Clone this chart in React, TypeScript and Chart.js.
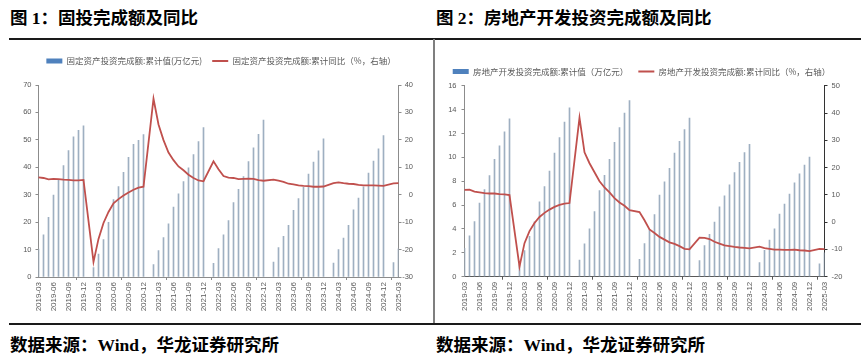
import React, { useEffect, useRef } from 'react';
import { Chart, registerables } from 'chart.js';

Chart.register(...registerables);
Chart.defaults.font.family = '"Liberation Sans", Arial, sans-serif';

// ---------- data ----------
const months: string[] = [
  '2019-03', '2019-04', '2019-05', '2019-06', '2019-07', '2019-08', '2019-09', '2019-10', '2019-11', '2019-12',
  '2020-01', '2020-02', '2020-03', '2020-04', '2020-05', '2020-06', '2020-07', '2020-08', '2020-09', '2020-10', '2020-11', '2020-12',
  '2021-01', '2021-02', '2021-03', '2021-04', '2021-05', '2021-06', '2021-07', '2021-08', '2021-09', '2021-10', '2021-11', '2021-12',
  '2022-01', '2022-02', '2022-03', '2022-04', '2022-05', '2022-06', '2022-07', '2022-08', '2022-09', '2022-10', '2022-11', '2022-12',
  '2023-01', '2023-02', '2023-03', '2023-04', '2023-05', '2023-06', '2023-07', '2023-08', '2023-09', '2023-10', '2023-11', '2023-12',
  '2024-01', '2024-02', '2024-03', '2024-04', '2024-05', '2024-06', '2024-07', '2024-08', '2024-09', '2024-10', '2024-11', '2024-12',
  '2025-01', '2025-02', '2025-03',
];

// 固定资产投资完成额:累计值(万亿元)
const faiValue: (number | null)[] = [
  10.2, 15.4, 21.8, 29.9, 35.3, 40.6, 46.1, 51.1, 53.5, 55.1,
  null, 3.4, 8.4, 13.6, 19.9, 28.2, 33.0, 38.2, 43.6, 48.4, 49.8, 51.9,
  null, 4.5, 9.6, 14.4, 19.4, 25.5, 30.3, 34.8, 39.8, 44.6, 49.4, 54.5,
  null, 5.0, 10.4, 15.4, 20.6, 27.1, 32.0, 36.6, 42.1, 47.1, 52.0, 57.2,
  null, 5.4, 10.7, 14.8, 18.8, 24.3, 28.6, 32.7, 37.5, 41.9, 46.0, 50.4,
  null, 5.1, 10.0, 14.2, 18.8, 24.5, 28.8, 32.9, 37.9, 42.3, 46.7, 51.6,
  null, 5.3, 10.3,
];

// 固定资产投资完成额:累计同比(%)
const faiYoY: (number | null)[] = [
  6.3, 6.1, 5.6, 5.8, 5.7, 5.5, 5.4, 5.2, 5.2, 5.4,
  null, -24.5, -16.1, -10.3, -6.3, -3.1, -1.6, -0.3, 0.8, 1.8, 2.6, 2.9,
  null, 35.0, 25.6, 19.9, 15.4, 12.6, 10.3, 8.9, 7.3, 6.1, 5.2, 4.9,
  null, 12.2, 9.3, 6.8, 6.2, 6.1, 5.7, 5.8, 5.9, 5.8, 5.3, 5.1,
  null, 5.5, 5.1, 4.7, 4.0, 3.8, 3.4, 3.2, 3.1, 2.9, 2.9, 3.0,
  null, 4.2, 4.5, 4.2, 4.0, 3.9, 3.6, 3.4, 3.4, 3.4, 3.3, 3.2,
  null, 4.1, 4.2,
];

// 房地产开发投资完成额:累计值(万亿元)
const reValue: (number | null)[] = [
  2.38, 3.42, 4.61, 6.16, 7.31, 8.48, 9.84, 10.96, 12.13, 13.22,
  null, 1.01, 2.19, 3.39, 4.59, 6.28, 7.55, 8.84, 10.35, 11.66, 12.95, 14.14,
  null, 1.39, 2.76, 4.02, 5.46, 7.22, 8.49, 9.84, 11.26, 12.49, 13.70, 14.76,
  null, 1.45, 2.78, 3.92, 5.21, 6.83, 7.95, 9.08, 10.36, 11.34, 12.32, 13.29,
  null, 1.36, 2.60, 3.55, 4.57, 5.86, 6.77, 7.69, 8.72, 9.59, 10.40, 11.09,
  null, 1.18, 2.21, 3.07, 4.01, 5.25, 6.09, 6.93, 7.87, 8.63, 9.35, 10.03,
  null, 1.07, 1.99,
];

// 房地产开发投资完成额:累计同比(%)
const reYoY: (number | null)[] = [
  11.8, 11.9, 11.2, 10.9, 10.6, 10.5, 10.5, 10.3, 10.2, 9.9,
  null, -16.3, -7.7, -3.3, -0.3, 1.9, 3.4, 4.6, 5.6, 6.3, 6.8, 7.0,
  null, 38.3, 25.6, 21.6, 18.3, 15.0, 12.7, 10.9, 8.8, 7.2, 6.0, 4.4,
  null, 3.7, 0.7, -2.7, -4.0, -5.4, -6.4, -7.4, -8.0, -8.8, -9.8, -10.0,
  null, -5.7, -5.8, -6.2, -7.2, -7.9, -8.5, -8.8, -9.1, -9.3, -9.4, -9.6,
  null, -9.0, -9.5, -9.8, -10.1, -10.1, -10.2, -10.2, -10.1, -10.3, -10.4, -10.6,
  null, -9.8, -9.9,
];

const faiTitle = '图 1：固投完成额及同比';
const reTitle = '图 2：房地产开发投资完成额及同比';
const sourceText = '数据来源：Wind，华龙证券研究所';
const faiBarLabel = '固定资产投资完成额:累计值(万亿元)';
const faiLineLabel = '固定资产投资完成额:累计同比（%，右轴）';
const reBarLabel = '房地产开发投资完成额:累计值（万亿元）';
const reLineLabel = '房地产开发投资完成额:累计同比（%，右轴）';

// ---------- styles ----------
const BAR = '#9eafc1';
const BAR_LEGEND = '#4f81bd';
const LINE = '#c0504d';
const TICK = '#595959';

type Opts = {
  bars: (number | null)[];
  line: (number | null)[];
  barLabel: string;
  lineLabel: string;
  yMax: number;
  yStep: number;
  y1Min: number;
  y1Max: number;
  padTop: number;
  gapTop: number;
  padLeft: number;
  padRight: number;
  padBottom: number;
  leftW: number;
  rightW: number;
  rightSpacer: number;
  rightAlign: 'near' | 'far';
  leftPad: number;
  xH: number;
  axisColor: string;
  xAxisColor: string;
  rightAxisColor: string;
};

function makeConfig(o: Opts): any {
  const generateLabels = (chart: any) => {
    const items = (Chart.defaults.plugins.legend.labels as any).generateLabels(chart);
    items.sort((a: any, b: any) => a.datasetIndex - b.datasetIndex);
    items.forEach((it: any) => {
      if (it.datasetIndex === 0) {
        it.pointStyle = 'rect';
        it.fillStyle = BAR_LEGEND;
        it.strokeStyle = BAR_LEGEND;
        it.lineWidth = 0;
      } else {
        it.pointStyle = 'line';
        it.strokeStyle = LINE;
        it.fillStyle = LINE;
        it.lineWidth = 2;
      }
    });
    return items;
  };
  return {
    type: 'bar',
    data: {
      labels: months,
      datasets: [
        {
          type: 'bar',
          label: o.barLabel,
          data: o.bars,
          backgroundColor: BAR,
          borderWidth: 0,
          barThickness: 1,
          yAxisID: 'y',
          xAxisID: 'x',
          order: 2,
        },
        {
          type: 'line',
          label: o.lineLabel,
          data: o.line,
          borderColor: LINE,
          backgroundColor: LINE,
          borderWidth: 1.8,
          pointRadius: 0,
          pointHoverRadius: 0,
          spanGaps: true,
          tension: 0,
          yAxisID: 'y1',
          xAxisID: 'x',
          order: 1,
        },
      ],
    },
    options: {
      animation: false,
      responsive: false,
      devicePixelRatio: 1,
      events: [],
      layout: { padding: { top: o.padTop, left: o.padLeft, right: o.padRight, bottom: o.padBottom } },
      plugins: {
        tooltip: { enabled: false },
        title: { display: false },
        legend: {
          display: true,
          position: 'top',
          labels: {
            usePointStyle: true,
            pointStyleWidth: 16,
            boxHeight: 5,
            padding: 10,
            color: TICK,
            font: { family: '"Noto Sans CJK SC", sans-serif', size: 8.5 },
            generateLabels,
          },
        },
      },
      scales: {
        x: {
          type: 'category',
          position: 'bottom',
          offset: false,
          grid: {
            display: true,
            drawOnChartArea: false,
            drawTicks: true,
            tickLength: 3,
            color: (ctx: any) => (ctx.index % 3 === 0 ? o.xAxisColor : 'rgba(0,0,0,0)'),
          },
          border: { display: true, color: o.xAxisColor, width: 1 },
          ticks: {
            autoSkip: false,
            minRotation: 90,
            maxRotation: 90,
            padding: 2,
            color: TICK,
            font: { size: 8 },
            callback: (_v: any, i: number) => (i % 3 === 0 ? months[i] : null),
          },
          afterFit: (s: any) => {
            s.height = o.xH;
          },
        },
        xTop: {
          type: 'category',
          position: 'top',
          display: o.gapTop > 0,
          grid: { display: false },
          border: { display: false },
          ticks: { display: false },
          afterFit: (s: any) => {
            s.height = o.gapTop;
          },
        },
        y: {
          type: 'linear',
          position: 'left',
          min: 0,
          max: o.yMax,
          grid: { display: true, drawOnChartArea: false, drawTicks: true, tickLength: 3, color: o.axisColor },
          border: { display: true, color: o.axisColor, width: 1 },
          ticks: { stepSize: o.yStep, padding: o.leftPad, color: TICK, font: { size: 7.5 } },
          afterFit: (s: any) => {
            s.width = o.leftW;
          },
        },
        y1: {
          type: 'linear',
          position: 'right',
          weight: 0,
          min: o.y1Min,
          max: o.y1Max,
          grid: { display: true, drawOnChartArea: false, drawTicks: true, tickLength: 3, color: o.rightAxisColor },
          border: { display: true, color: o.rightAxisColor, width: 1 },
          ticks: { stepSize: 10, padding: 4, crossAlign: o.rightAlign, color: TICK, font: { size: 7.5 } },
          afterFit: (s: any) => {
            s.width = o.rightW;
          },
        },
        ySpacer: {
          type: 'linear',
          position: 'right',
          weight: 5,
          display: o.rightSpacer > 0,
          grid: { display: false },
          border: { display: false },
          ticks: { display: false },
          afterFit: (s: any) => {
            s.width = o.rightSpacer;
          },
        },
      },
    },
  };
}

const headStyle = (left: number, top: number): React.CSSProperties => ({
  position: 'absolute',
  left,
  top,
  fontFamily: '"Liberation Serif", "Noto Sans CJK SC", serif',
  fontWeight: 700,
  fontSize: 17.5,
  lineHeight: '18px',
  color: '#000',
  whiteSpace: 'nowrap',
});

export default function App() {
  const ref1 = useRef<HTMLCanvasElement>(null);
  const ref2 = useRef<HTMLCanvasElement>(null);

  useEffect(() => {
    const c1 = new Chart(
      ref1.current!,
      makeConfig({
        bars: faiValue,
        line: faiYoY,
        barLabel: faiBarLabel,
        lineLabel: faiLineLabel,
        yMax: 70,
        yStep: 10,
        y1Min: -30,
        y1Max: 40,
        padTop: 6.75,
        gapTop: 9.75,
        padLeft: 15,
        padRight: 6,
        padBottom: 3,
        leftW: 23.5,
        rightW: 14.5,
        rightSpacer: 14,
        rightAlign: 'far',
        leftPad: 4,
        xH: 42,
        axisColor: '#8c8c8c',
        xAxisColor: '#8c8c8c',
        rightAxisColor: '#8c8c8c',
      }),
    );
    const c2 = new Chart(
      ref2.current!,
      makeConfig({
        bars: reValue,
        line: reYoY,
        barLabel: reBarLabel,
        lineLabel: reLineLabel,
        yMax: 16,
        yStep: 2,
        y1Min: -20,
        y1Max: 50,
        padTop: 17.25,
        gapTop: 0,
        padLeft: 0,
        padRight: 18,
        padBottom: 3.3,
        leftW: 29.5,
        rightW: 23.5,
        rightSpacer: 0,
        rightAlign: 'near',
        leftPad: 5,
        xH: 42,
        axisColor: '#8c8c8c',
        xAxisColor: '#595959',
        rightAxisColor: '#333333',
      }),
    );
    return () => {
      c1.destroy();
      c2.destroy();
    };
  }, []);

  return (
    <div style={{ position: 'absolute', left: 0, top: 0, width: 866, height: 360, background: '#fff', overflow: 'hidden' }}>
      <div style={headStyle(10, 9)}>{faiTitle}</div>
      <div style={headStyle(436, 9)}>{reTitle}</div>
      <div style={{ position: 'absolute', left: 9, top: 38, width: 852, height: 2, background: '#1a1a1a' }} />
      <div style={{ position: 'absolute', left: 433, top: 39, width: 2, height: 285, background: '#7f7f7f' }} />
      <div style={{ position: 'absolute', left: 9, top: 323, width: 852, height: 2, background: '#1a1a1a' }} />
      <canvas
        ref={ref1}
        width={433}
        height={282}
        style={{ position: 'absolute', left: 0, top: 40, width: 433, height: 282 }}
      />
      <canvas
        ref={ref2}
        width={431}
        height={282}
        style={{ position: 'absolute', left: 435, top: 40, width: 431, height: 282 }}
      />
      <div style={headStyle(10, 336)}>{sourceText}</div>
      <div style={headStyle(436, 336)}>{sourceText}</div>
    </div>
  );
}
